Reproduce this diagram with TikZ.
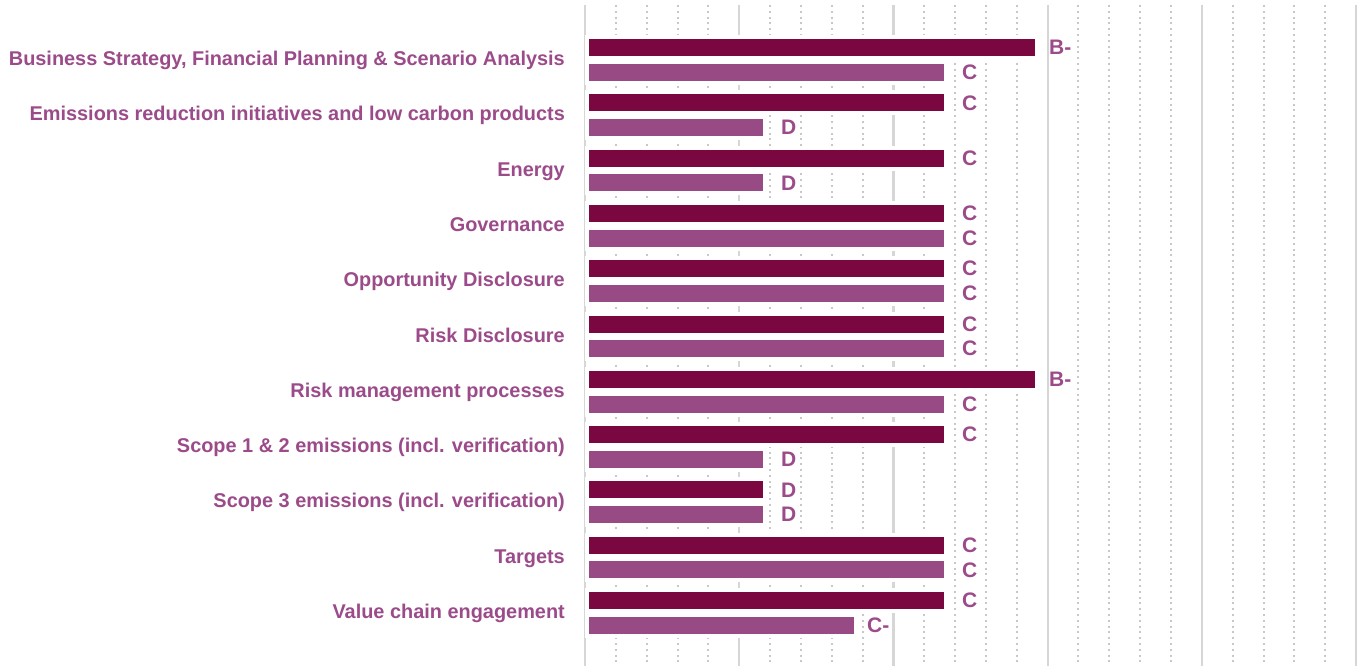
\documentclass[tikz,border=0pt]{standalone}
\usepackage{fontspec}
\setmainfont{Liberation Sans}
\definecolor{barDark}{RGB}{123,7,65}
\definecolor{barLight}{RGB}{152,74,133}
\definecolor{labelPurple}{RGB}{155,75,137}
\definecolor{gridGrey}{RGB}{214,214,214}
\definecolor{dotGrey}{RGB}{200,200,200}
\tikzset{
	major/.style={gridGrey,line width=2.2pt},
	minor/.style={dotGrey,line width=2pt,dash pattern=on 2pt off 3.8pt},
	darkbar/.style={fill=barDark,draw=white,line width=4pt},
	lightbar/.style={fill=barLight,draw=white,line width=4pt},
	grade/.style={anchor=west,inner sep=0pt,labelPurple,font=\bfseries\fontsize{21}{21}\selectfont},
	cat/.style={anchor=base east,inner sep=0pt,labelPurple,font=\bfseries\fontsize{19.9}{20}\selectfont}
}
\begin{document}
\begin{tikzpicture}[x=1pt,y=-1pt]
\useasboundingbox (0,0) rectangle (1365,666);
%grid
	%major lines
	\draw[major] (585,5) -- (585,666); %axis
	\draw[major] (739.2,5) -- (739.2,666);
	\draw[major] (893.4,5) -- (893.4,666);
	\draw[major] (1047.6,5) -- (1047.6,666);
	\draw[major] (1201.8,5) -- (1201.8,666);
	\draw[major] (1356,5) -- (1356,666);
	%minor lines
	\draw[minor] (615.8,5) -- (615.8,666);
	\draw[minor] (646.7,5) -- (646.7,666);
	\draw[minor] (677.5,5) -- (677.5,666);
	\draw[minor] (708.4,5) -- (708.4,666);
	\draw[minor] (770.0,5) -- (770.0,666);
	\draw[minor] (800.9,5) -- (800.9,666);
	\draw[minor] (831.7,5) -- (831.7,666);
	\draw[minor] (862.6,5) -- (862.6,666);
	\draw[minor] (924.2,5) -- (924.2,666);
	\draw[minor] (955.1,5) -- (955.1,666);
	\draw[minor] (985.9,5) -- (985.9,666);
	\draw[minor] (1016.8,5) -- (1016.8,666);
	\draw[minor] (1078.4,5) -- (1078.4,666);
	\draw[minor] (1109.3,5) -- (1109.3,666);
	\draw[minor] (1140.1,5) -- (1140.1,666);
	\draw[minor] (1171.0,5) -- (1171.0,666);
	\draw[minor] (1232.6,5) -- (1232.6,666);
	\draw[minor] (1263.5,5) -- (1263.5,666);
	\draw[minor] (1294.3,5) -- (1294.3,666);
	\draw[minor] (1325.2,5) -- (1325.2,666);
%bars
	%business strategy
	\draw[darkbar] (586.5,37.0) rectangle (1037,58.0);
	\node[grade] (bs1g) at (1049,47.5) {B-};
	\draw[lightbar] (586.5,61.7) rectangle (946,82.7);
	\node[grade] (bs2g) at (962,72.2) {C};
	%emissions reduction
	\draw[darkbar] (586.5,92.3) rectangle (946,113.3);
	\node[grade] (er1g) at (962,102.8) {C};
	\draw[lightbar] (586.5,117.0) rectangle (765,138.0);
	\node[grade] (er2g) at (781,127.5) {D};
	%energy
	\draw[darkbar] (586.5,147.6) rectangle (946,168.6);
	\node[grade] (en1g) at (962,158.1) {C};
	\draw[lightbar] (586.5,172.3) rectangle (765,193.3);
	\node[grade] (en2g) at (781,182.8) {D};
	%governance
	\draw[darkbar] (586.5,202.9) rectangle (946,223.9);
	\node[grade] (gv1g) at (962,213.4) {C};
	\draw[lightbar] (586.5,227.6) rectangle (946,248.6);
	\node[grade] (gv2g) at (962,238.1) {C};
	%opportunity disclosure
	\draw[darkbar] (586.5,258.2) rectangle (946,279.2);
	\node[grade] (od1g) at (962,268.7) {C};
	\draw[lightbar] (586.5,282.9) rectangle (946,303.9);
	\node[grade] (od2g) at (962,293.4) {C};
	%risk disclosure
	\draw[darkbar] (586.5,313.5) rectangle (946,334.5);
	\node[grade] (rd1g) at (962,324.0) {C};
	\draw[lightbar] (586.5,338.2) rectangle (946,359.2);
	\node[grade] (rd2g) at (962,348.7) {C};
	%risk management
	\draw[darkbar] (586.5,368.8) rectangle (1037,389.8);
	\node[grade] (rm1g) at (1049,379.3) {B-};
	\draw[lightbar] (586.5,393.5) rectangle (946,414.5);
	\node[grade] (rm2g) at (962,404.0) {C};
	%scope 1 & 2
	\draw[darkbar] (586.5,424.1) rectangle (946,445.1);
	\node[grade] (s11g) at (962,434.6) {C};
	\draw[lightbar] (586.5,448.8) rectangle (765,469.8);
	\node[grade] (s12g) at (781,459.3) {D};
	%scope 3
	\draw[darkbar] (586.5,479.4) rectangle (765,500.4);
	\node[grade] (s31g) at (781,489.9) {D};
	\draw[lightbar] (586.5,504.1) rectangle (765,525.1);
	\node[grade] (s32g) at (781,514.6) {D};
	%targets
	\draw[darkbar] (586.5,534.7) rectangle (946,555.7);
	\node[grade] (tg1g) at (962,545.2) {C};
	\draw[lightbar] (586.5,559.4) rectangle (946,580.4);
	\node[grade] (tg2g) at (962,569.9) {C};
	%value chain
	\draw[darkbar] (586.5,590.0) rectangle (946,611.0);
	\node[grade] (vc1g) at (962,600.5) {C};
	\draw[lightbar] (586.5,614.7) rectangle (856,635.7);
	\node[grade] (vc2g) at (867,625.2) {C-};
%categories
	\node[cat] (bs) at (565,65.5) {Business Strategy, Financial Planning \& Scenario Analysis};
	\node[cat] (er) at (565,120.8) {Emissions reduction initiatives and low carbon products};
	\node[cat] (en) at (565,176.1) {Energy};
	\node[cat] (gv) at (565,231.4) {Governance};
	\node[cat] (od) at (565,286.7) {Opportunity Disclosure};
	\node[cat] (rd) at (565,342.0) {Risk Disclosure};
	\node[cat] (rm) at (565,397.3) {Risk management processes};
	\node[cat] (s1) at (565,452.6) {Scope 1 \& 2 emissions (incl. verification)};
	\node[cat] (s3) at (565,507.9) {Scope 3 emissions (incl. verification)};
	\node[cat] (tg) at (565,563.2) {Targets};
	\node[cat] (vc) at (565,618.5) {Value chain engagement};
\end{tikzpicture}
\end{document}
